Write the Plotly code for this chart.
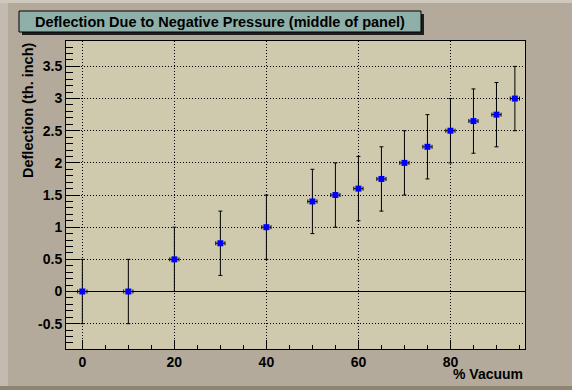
import plotly.graph_objects as go

# ---- data ----
vacuum = [0, 10, 20, 30, 40, 50, 55, 60, 65, 70, 75, 80, 85, 90, 94]
deflection = [0, 0, 0.5, 0.75, 1.0, 1.4, 1.5, 1.6, 1.75, 2.0, 2.25, 2.5, 2.65, 2.75, 3.0]
y_err = [0.5] * len(vacuum)
x_err = [1.0] * len(vacuum)

title_text = "Deflection Due to Negative Pressure (middle of panel)"
x_title = "% Vacuum"
y_title = "Deflection (th. inch)"

W, H = 572, 390
L, R, T, B = 66, 525, 41, 349   # plot area in pixels
pw, ph = R - L, B - T

def px(x):
    return (x - L) / pw

def py(y):
    return (B - y) / ph

FONT = "Liberation Sans, Arial, Helvetica, sans-serif"

fig = go.Figure()
fig.add_trace(go.Scatter(
    x=vacuum, y=deflection, mode="markers",
    marker=dict(symbol="square", size=6, color="#0000ff", line=dict(width=0)),
    error_y=dict(type="data", array=y_err, visible=True, color="black", thickness=1, width=2),
    error_x=dict(type="data", array=x_err, visible=True, color="black", thickness=1, width=2),
    showlegend=False, cliponaxis=False,
))

axis_common = dict(
    showline=True, linecolor="black", linewidth=1, mirror=True,
    ticks="inside", tickcolor="black", tickwidth=1,
    showgrid=True, gridcolor="black", gridwidth=1, griddash="1px,2px",
    tickfont=dict(family=FONT, size=14, color="black", weight="bold"),
)

fig.update_layout(
    width=W, height=H,
    margin=dict(l=L, r=W - R, t=T, b=H - B),
    paper_bgcolor="#b4aa9b",
    plot_bgcolor="#cfcaae",
    xaxis=dict(range=[-3.55, 96.2], tickvals=[0, 20, 40, 60, 80], ticklen=9,
               minor=dict(dtick=5, tick0=0, ticklen=4.5, ticks="inside", tickcolor="black", showgrid=False),
               zeroline=False, **axis_common),
    yaxis=dict(range=[-0.894, 3.895], tickvals=[-0.5, 0, 0.5, 1, 1.5, 2, 2.5, 3, 3.5],
               ticktext=["-0.5", "0", "0.5", "1", "1.5", "2", "2.5", "3", "3.5"], ticklen=14,
               minor=dict(dtick=0.1, tick0=0, ticklen=7, ticks="inside", tickcolor="black", showgrid=False),
               zeroline=True, zerolinecolor="black", zerolinewidth=1, **axis_common),
)

shapes = [
    # canvas bevels
    dict(type="rect", xref="paper", yref="paper", x0=px(0), x1=px(8), y0=py(0), y1=py(390),
         fillcolor="#c3bbaf", line=dict(width=0), layer="below"),
    dict(type="rect", xref="paper", yref="paper", x0=px(0), x1=px(572), y0=py(0), y1=py(3),
         fillcolor="#cfc8bd", line=dict(width=0), layer="below"),
    dict(type="rect", xref="paper", yref="paper", x0=px(0), x1=px(572), y0=py(386), y1=py(390),
         fillcolor="#8e8474", line=dict(width=0), layer="below"),
    # title box shadow
    dict(type="rect", xref="paper", yref="paper", x0=px(22), x1=px(424), y0=py(14), y1=py(35),
         fillcolor="#1e1e1e", line=dict(width=0)),
    # title box
    dict(type="rect", xref="paper", yref="paper", x0=px(19), x1=px(421), y0=py(11), y1=py(32),
         fillcolor="#8fb0a9", line=dict(color="black", width=1)),
]
fig.update_layout(shapes=shapes)

fig.add_annotation(text="<b>%s</b>" % title_text, xref="paper", yref="paper",
                   x=px(220), y=py(21.5), xanchor="center", yanchor="middle", showarrow=False,
                   font=dict(family=FONT, size=14.5, color="black"))
fig.add_annotation(text="<b>%s</b>" % x_title, xref="paper", yref="paper",
                   x=px(525), y=py(374), xanchor="right", yanchor="middle", showarrow=False,
                   font=dict(family=FONT, size=14, color="black"))
fig.add_annotation(text="<b>%s</b>" % y_title, xref="paper", yref="paper",
                   x=px(28), y=py(40), xanchor="center", yanchor="top", textangle=-90, showarrow=False,
                   font=dict(family=FONT, size=14.5, color="black"))

fig.write_html("out.html")
